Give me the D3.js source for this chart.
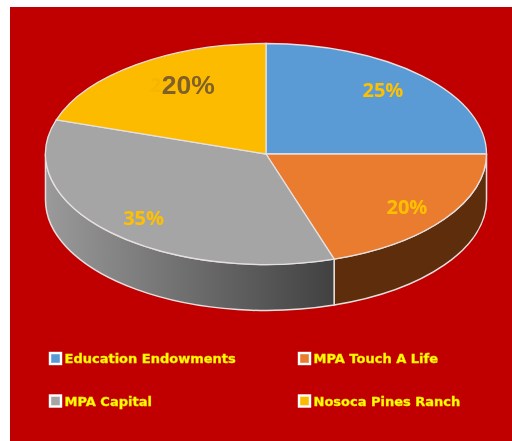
<!DOCTYPE html>
<html lang="en">

<head>
  <meta charset="utf-8">
  <title>Pie</title>
  <script src="https://d3js.org/d3.v7.min.js"></script>
  <style>
    body { margin: 0; background: #fff; }
    svg { display: block; }
  </style>
</head>

<body>
  <div id="chart"></div>

  <script>
    // Values
    const categories = ["Education Endowments", "MPA Touch A Life", "MPA Capital", "Nosoca Pines Ranch"];
    const values = [25, 20, 35, 20];
    const sliceColors = ["#5b9bd5", "#ea7c30", "#a5a5a5", "#fdbb00"];

    const width = 512, height = 441;
    const cx = 266, cy = 154, rx = 220.5, ry = 110.5, depth = 46;
    const edge = "#e6e0e0";
    const labelReach = [0.75, 0.79, 0.785];

    const svg = d3.select("#chart").append("svg").attr("width", width).attr("height", height);

    // Red panel
    svg.append("rect").attr("x", 10).attr("y", 7).attr("width", width - 10).attr("height", height - 7).attr("fill", "#c00000");

    const defs = svg.append("defs");
    const grad = defs.append("linearGradient").attr("id", "greySide")
      .attr("gradientUnits", "userSpaceOnUse")
      .attr("x1", cx - rx).attr("x2", cx + 68).attr("y1", 0).attr("y2", 0);
    grad.append("stop").attr("offset", 0).attr("stop-color", "#9a9a9a");
    grad.append("stop").attr("offset", 1).attr("stop-color", "#414141");

    // The reference text is a little soft
    defs.append("filter").attr("id", "soft")
      .append("feGaussianBlur").attr("stdDeviation", 0.35);

    const pie = d3.pie().sort(null).value(d => d);
    const slices = pie(values);
    const arc = d3.arc().innerRadius(0).outerRadius(rx);

    // Point on the ellipse for a pie angle (0 = top, clockwise)
    const px = (a, f = 1) => cx + Math.sin(a) * rx * f;
    const py = (a, f = 1) => cy - Math.cos(a) * ry * f;

    // Side wall between two angles
    function sidePath(a0, a1) {
      return "M" + px(a0) + "," + py(a0) +
        "A" + rx + "," + ry + " 0 0 1 " + px(a1) + "," + py(a1) +
        "L" + px(a1) + "," + (py(a1) + depth) +
        "A" + rx + "," + ry + " 0 0 0 " + px(a0) + "," + (py(a0) + depth) + "Z";
    }

    const sides = svg.append("g");
    sides.append("path")
      .attr("d", sidePath(slices[1].startAngle, slices[1].endAngle))
      .attr("fill", "#5e2e0c").attr("stroke", edge).attr("stroke-width", 1.5);
    sides.append("path")
      .attr("d", sidePath(slices[2].startAngle, 1.5 * Math.PI))
      .attr("fill", "url(#greySide)").attr("stroke", edge).attr("stroke-width", 1.5);

    // Top face, a flattened d3 pie
    svg.append("g")
      .attr("transform", "translate(" + cx + "," + cy + ") scale(1," + (ry / rx) + ")")
      .selectAll("path").data(slices).enter()
      .append("path")
      .attr("d", arc)
      .attr("fill", (d, i) => sliceColors[i])
      .attr("stroke", edge)
      .attr("stroke-width", 1.3)
      .attr("vector-effect", "non-scaling-stroke");

    // Data labels
    const mid = d => (d.startAngle + d.endAngle) / 2;
    const pct = d => d.data + "%";

    svg.selectAll(".lab").data(slices.slice(0, 3)).enter()
      .append("text").attr("class", "lab")
      .attr("x", (d, i) => px(mid(d), labelReach[i]))
      .attr("y", d => py(mid(d), 0.82) + 7)
      .attr("text-anchor", "middle")
      .attr("font-family", "'Open Sans', sans-serif")
      .attr("font-weight", 700)
      .attr("font-size", 20)
      .attr("fill", "#ffc000")
      .attr("filter", "url(#soft)")
      .text(pct);

    // Last label: the first digit of the old one still shows faintly beside the enlarged one
    const last = slices[3];
    svg.append("text")
      .attr("x", px(mid(last), 0.6) - 27).attr("y", py(mid(last), 0.76) + 6)
      .attr("text-anchor", "end")
      .attr("font-family", "'Open Sans', sans-serif").attr("font-weight", 700).attr("font-size", 20)
      .attr("fill", "#f6b600")
      .text(String(last.data)[0]);
    svg.append("text")
      .attr("x", px(mid(last), 0.6)).attr("y", py(mid(last), 0.76) + 8)
      .attr("text-anchor", "middle")
      .attr("font-family", "'Liberation Sans', sans-serif").attr("font-weight", 700).attr("font-size", 26.5)
      .attr("fill", "#7f5f2a")
      .attr("filter", "url(#soft)")
      .text(pct(last));

    // Legend, two by two
    const legendX = d3.scalePoint().domain([0, 1]).range([49, 298]);
    const legendY = d3.scalePoint().domain([0, 1]).range([352, 394.5]);

    const items = svg.selectAll(".leg").data(categories).enter()
      .append("g").attr("class", "leg")
      .attr("transform", (d, i) => "translate(" + legendX(i % 2) + "," + legendY(i >> 1) + ")");

    items.append("rect")
      .attr("x", 1).attr("y", 1).attr("width", 11).attr("height", 11)
      .attr("fill", (d, i) => sliceColors[i])
      .attr("stroke", "#fff").attr("stroke-width", 2.4);

    items.append("text")
      .attr("x", 15.5).attr("y", 11)
      .attr("font-family", "'DejaVu Sans', sans-serif")
      .attr("font-weight", 700)
      .attr("font-size", 13)
      .attr("fill", "#ffff00")
      .attr("stroke", "#f4e000")
      .attr("stroke-width", 0.35)
      .attr("filter", "url(#soft)")
      .text(d => d);
  </script>
</body>

</html>
